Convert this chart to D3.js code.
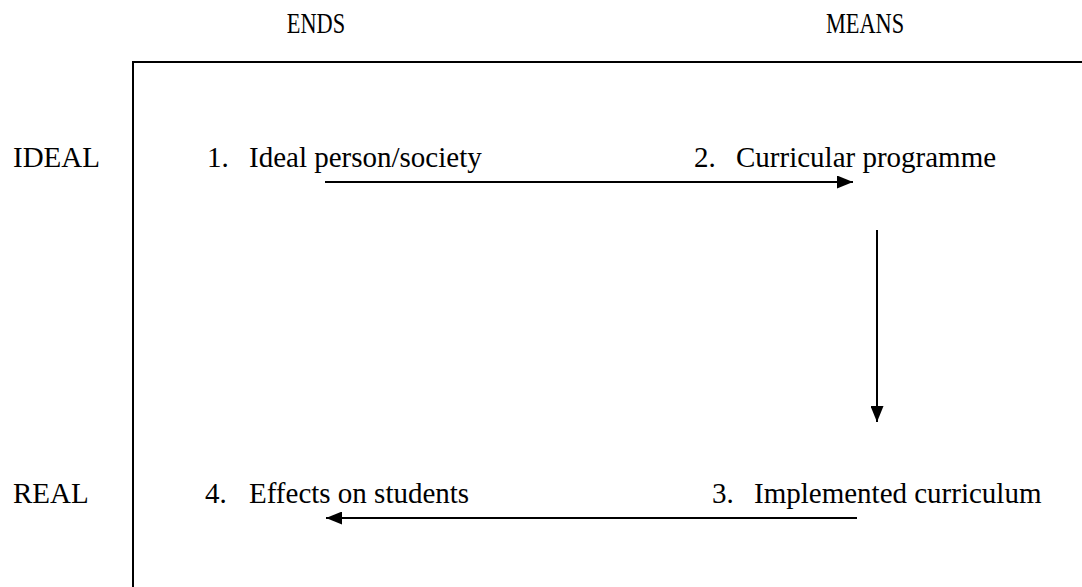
<!DOCTYPE html>
<html><head><meta charset="utf-8">
<script src="https://cdn.jsdelivr.net/npm/d3@7"></script>
<style>
html,body{margin:0;padding:0;background:#fff;}
svg{display:block;}
</style>
</head><body>
<svg id="c" width="1082" height="587"></svg>
<script>
// ---- data ----
const columns = ["ENDS", "MEANS"];
const rows = ["IDEAL", "REAL"];
const nodeNumbers = ["1.", "2.", "3.", "4."];
const nodeLabels = ["Ideal person/society", "Curricular programme", "Implemented curriculum", "Effects on students"];
const nodeColumn = ["ENDS", "MEANS", "MEANS", "ENDS"];
const nodeRow = ["IDEAL", "IDEAL", "REAL", "REAL"];
const flowFrom = [0, 1, 2];
const flowTo = [1, 2, 3];

// ---- layout ----
const W = 1082, H = 587, FS = 29;
const FONT = "'Liberation Serif', 'Times New Roman', Times, 'DejaVu Serif', serif";
const svg = d3.select("#c");
const colX = d3.scaleOrdinal().domain(columns).range([316, 865]);   // heading centres
const rowY = d3.scaleOrdinal().domain(rows).range([167, 503]);      // text baselines
const numX = [207, 694, 712, 205];
const labX = [249, 736, 754, 249];

function txt(sel) {
  return sel.attr("font-family", FONT).attr("font-size", FS).attr("fill", "#000");
}

// frame
svg.append("path")
  .attr("d", `M${W},62H133V${H}`)
  .attr("fill", "none").attr("stroke", "#000").attr("stroke-width", 2);

// column headings (condensed face)
svg.selectAll("text.col").data(columns).join("text")
  .attr("class", "col")
  .attr("transform", d => `translate(${colX(d)},33) scale(0.77,1)`)
  .attr("text-anchor", "middle")
  .call(txt)
  .text(d => d);

// row labels
svg.selectAll("text.row").data(rows).join("text")
  .attr("class", "row")
  .attr("x", 13).attr("y", d => rowY(d))
  .call(txt)
  .text(d => d);

// nodes
const nodes = nodeLabels.map((l, i) => ({ i, num: nodeNumbers[i], label: l, col: nodeColumn[i], row: nodeRow[i] }));
svg.selectAll("text.num").data(nodes).join("text")
  .attr("class", "num")
  .attr("x", d => numX[d.i]).attr("y", d => rowY(d.row))
  .call(txt)
  .text(d => d.num);
svg.selectAll("text.lab").data(nodes).join("text")
  .attr("class", "lab")
  .attr("x", d => labX[d.i]).attr("y", d => rowY(d.row))
  .call(txt)
  .text(d => d.label);

// arrows
const defs = svg.append("defs");
defs.append("marker").attr("id", "ah")
  .attr("viewBox", "0 0 16 13").attr("refX", 16).attr("refY", 6.5)
  .attr("markerWidth", 16).attr("markerHeight", 13)
  .attr("markerUnits", "userSpaceOnUse").attr("orient", "auto")
  .append("path").attr("d", "M0,0L16,6.5L0,13Z").attr("fill", "#000");

const arrowGeom = [
  { x1: 325, y1: rowY("IDEAL") + 15, x2: 853, y2: rowY("IDEAL") + 15 },
  { x1: 877, y1: 230, x2: 877, y2: 422 },
  { x1: 857, y1: rowY("REAL") + 15, x2: 326, y2: rowY("REAL") + 15 }
];
const flows = flowFrom.map((f, k) => ({ from: f, to: flowTo[k], g: arrowGeom[k] }));
svg.selectAll("line.flow").data(flows).join("line")
  .attr("class", "flow")
  .attr("x1", d => d.g.x1).attr("y1", d => d.g.y1)
  .attr("x2", d => d.g.x2).attr("y2", d => d.g.y2)
  .attr("stroke", "#000").attr("stroke-width", 2)
  .attr("marker-end", "url(#ah)");
</script>
</body></html>
